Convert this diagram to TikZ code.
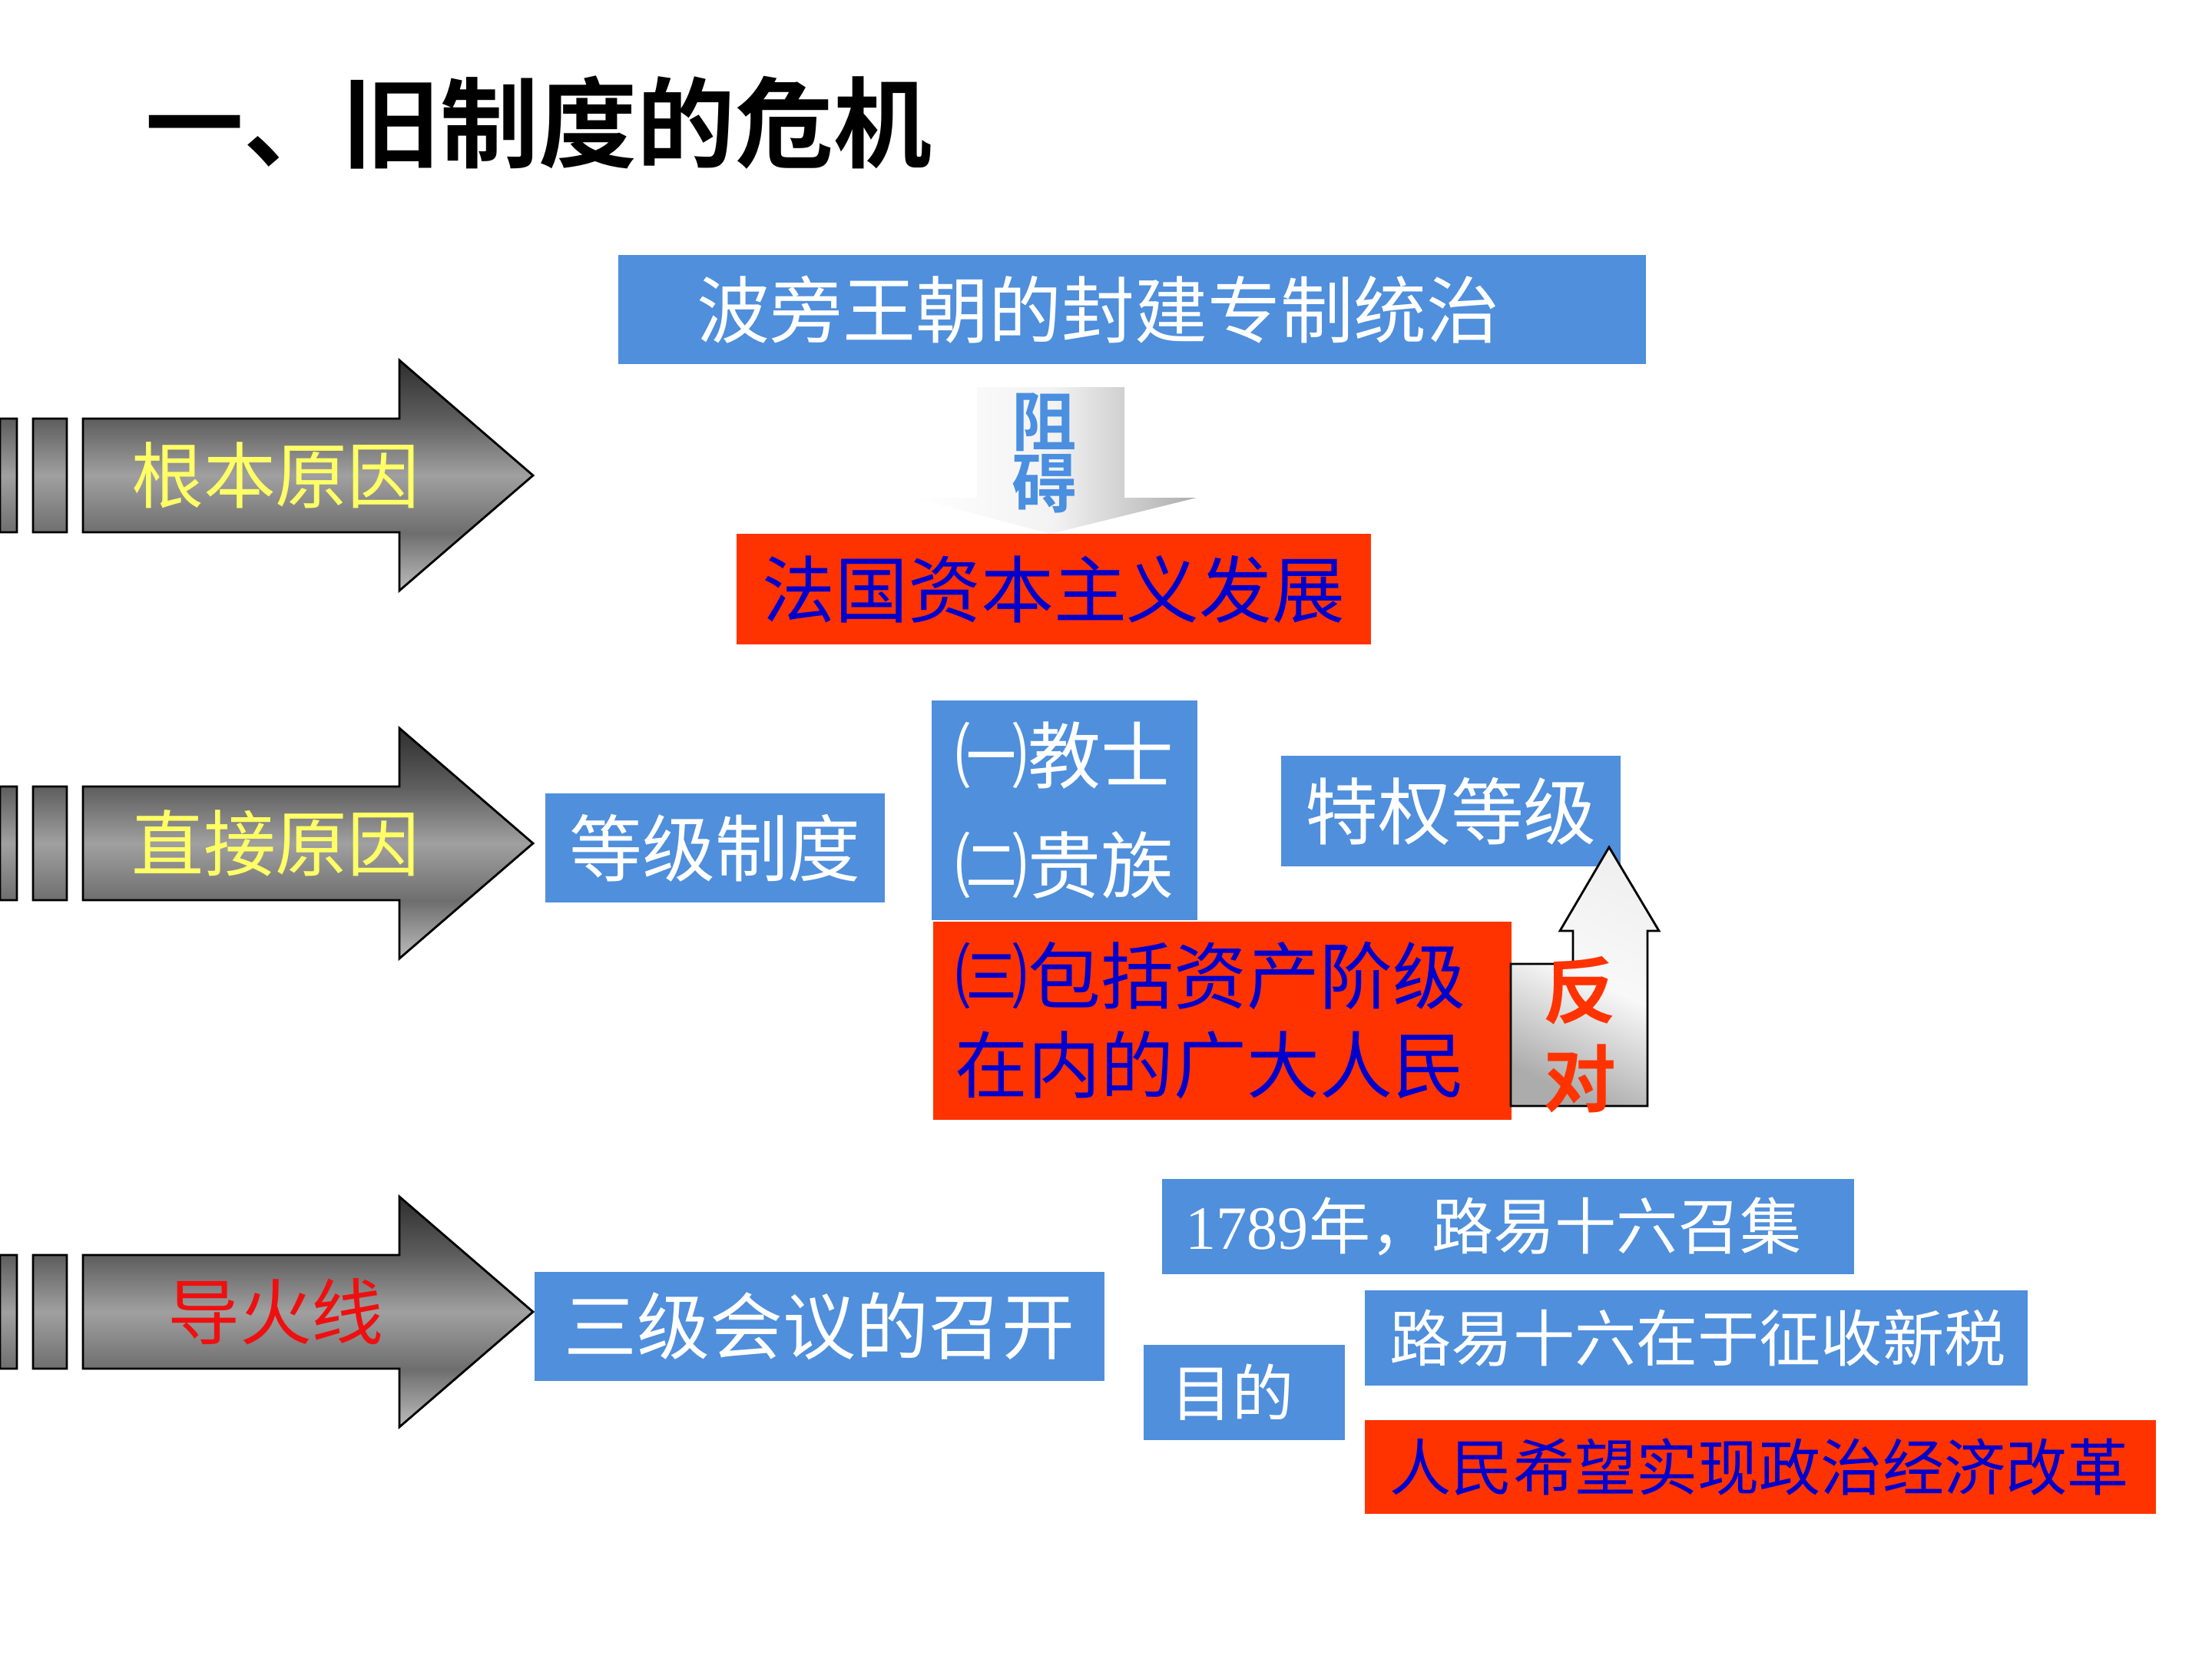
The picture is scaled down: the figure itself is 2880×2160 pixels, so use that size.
\documentclass[tikz,border=0pt]{standalone}
\usepackage{fontspec}
\setmainfont{Noto Sans CJK SC}[BoldFont={Noto Sans CJK SC Bold}]
\newfontfamily\numfont{Liberation Serif}
\usetikzlibrary{positioning}

\definecolor{boxblue}{RGB}{79,143,220}
\definecolor{boxred}{RGB}{255,51,0}
\definecolor{txtblue}{RGB}{0,0,204}
\definecolor{txtyellow}{RGB}{255,255,102}
\definecolor{txtred}{RGB}{238,16,16}
\definecolor{zublue}{RGB}{74,143,224}
\definecolor{mgLow}{RGB}{189,189,189}
\definecolor{mgShaftLow}{RGB}{110,110,110}
\definecolor{mgMid}{RGB}{160,160,160}
\definecolor{mgShaftTop}{RGB}{94,94,94}
\definecolor{mgTop}{RGB}{46,46,46}

\pgfdeclareverticalshading{metalgray}{100bp}{color(0bp)=(mgLow); color(25bp)=(mgLow);
  color(37.5bp)=(mgShaftLow); color(50bp)=(mgMid); color(62.2bp)=(mgShaftTop);
  color(75bp)=(mgTop); color(100bp)=(mgTop)}

\begin{document}
\begin{tikzpicture}[x=0.01cm, y=-0.01cm,
    box/.style={inner sep=0pt, text=white, font=\fontsize{27}{32}\selectfont},
    bluebox/.style={box, fill=boxblue},
    redbox/.style={box, fill=boxred, text=txtblue},
    smallbox/.style={font=\fontsize{22.8}{27}\selectfont, align=left},
    tag/.style={inner sep=0pt, font=\fontsize{26.7}{30}\selectfont},
    vert/.style={align=center, inner sep=0pt},
    grayarrow/.style={draw=black, line width=0.8pt, shading=metalgray},
    silver/.style={draw=black, line width=0.8pt, top color=gray!12, bottom color=gray!65,
      middle color=gray!5, shading angle=-25},
  ]
  \useasboundingbox (0,0) rectangle (2880,2160);
  \fill[white] (0,0) rectangle (2880,2160);

  % Title
  \node[anchor=west, inner sep=0pt, font=\bfseries\fontsize{36.4}{40}\selectfont] (title) at (189,160) {一、旧制度的危机};

  % Gray arrows on the left
  \foreach \yc/\nm/\lbl/\col in {619/root/根本原因/txtyellow, 1098/direct/直接原因/txtyellow, 1708/fuse/导火线/txtred}{
    \shadedraw[grayarrow] (0,\yc-74) rectangle (22,\yc+74)
      (43,\yc-74) rectangle (87,\yc+74)
      (108,\yc-74) -- (520,\yc-74) -- (520,\yc-150) -- (694,\yc) -- (520,\yc+150)
      -- (520,\yc+74) -- (108,\yc+74) -- cycle;
    \node[tag, text=\col] (\nm) at (359,\yc) {\lbl};
  }

  % Root cause
  \node[bluebox, anchor=west, align=left, text width=11.32cm, inner xsep=1.03cm, minimum height=1.42cm] (regime) at (804,403) {波旁王朝的封建专制统治};
  \shade[left color=white, right color=gray!65, middle color=gray!10] (1272,504) -- (1464,504) -- (1464,648) -- (1558,648) -- (1368,695) -- (1190,648) -- (1272,648) -- cycle;
  \node[vert, text=zublue, font=\bfseries\fontsize{24}{22.8}\selectfont] (hinder) at (1360,590) {阻\\碍};
  \node[redbox, minimum width=8.26cm, minimum height=1.43cm] (capital) at (1372,767) {法国资本主义发展};

  % Direct cause
  \node[bluebox, minimum width=4.41cm, minimum height=1.41cm] (estate) at (931,1104) {等级制度};
  \node[bluebox, align=left, minimum width=3.45cm, minimum height=2.85cm, font=\fontsize{27}{40.7}\selectfont] (clergy) at (1386,1055) {㈠教士\\㈡贵族};
  \node[redbox, anchor=west, align=left, text width=6.95cm, inner xsep=0.29cm, minimum height=2.57cm, font=\fontsize{27}{33}\selectfont] (people) at (1214,1329) {㈢包括资产阶级\\在内的广大人民};
  \node[bluebox, minimum width=4.42cm, minimum height=1.44cm] (privilege) at (1889,1056) {特权等级};
  \shadedraw[silver] (1967,1440) -- (1967,1255) -- (2048,1255) -- (2048,1212) -- (2031,1212) -- (2095,1103) -- (2160,1212) -- (2145,1212) -- (2145,1440) -- cycle;
  \node[vert, text=boxred, font=\bfseries\fontsize{27}{32.7}\selectfont] (oppose) at (2057,1347) {反\\对};

  % Fuse
  \node[bluebox, minimum width=7.42cm, minimum height=1.41cm] (general) at (1067,1727) {三级会议的召开};
  \node[bluebox, smallbox, anchor=west, text width=8.39cm, inner xsep=0.31cm, minimum height=1.23cm] (convene) at (1512,1597) {{\numfont 1789}年，路易十六召集};
  \node[bluebox, smallbox, anchor=west, text width=1.90cm, inner xsep=0.36cm, minimum height=1.23cm] (purpose) at (1488,1813) {目的};
  \node[bluebox, smallbox, anchor=west, text width=7.97cm, inner xsep=0.33cm, minimum height=1.23cm] (tax) at (1776,1742) {路易十六在于征收新税};
  \node[redbox, smallbox, anchor=west, text width=9.64cm, inner xsep=0.33cm, minimum height=1.21cm] (reform) at (1776,1910) {人民希望实现政治经济改革};
\end{tikzpicture}
\end{document}
